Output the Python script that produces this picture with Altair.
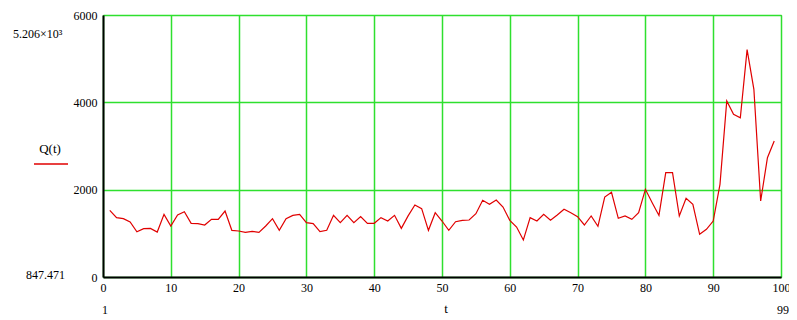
import altair as alt
import pandas as pd

t_vals = list(range(1, 100))
q_vals = [
    1527, 1358, 1335, 1260, 1035, 1107, 1114, 1030, 1435, 1168,
    1420, 1496, 1229, 1221, 1191, 1321, 1321, 1511, 1069, 1053,
    1023, 1046, 1023, 1168, 1335, 1069, 1335, 1412, 1435, 1244,
    1221, 1040, 1069, 1412, 1244, 1412, 1244, 1382, 1229, 1229,
    1359, 1282, 1412, 1114, 1400, 1649, 1565, 1069, 1473, 1282,
    1069, 1267, 1298, 1305, 1450, 1756, 1664, 1763, 1603, 1298,
    1145, 847.471, 1359, 1282, 1435, 1298, 1420, 1550, 1473, 1382,
    1191, 1397, 1160, 1830, 1940, 1344, 1397, 1321, 1473, 2008,
    1702, 1410, 2389, 2389, 1397, 1801, 1664, 977, 1092, 1282,
    2122, 4030, 3725, 3648, 5206, 4298, 1740, 2732, 3114,
]
x_ticks = list(range(0, 101, 10))
y_ticks = [0, 2000, 4000, 6000]

df = pd.DataFrame({"t": t_vals, "Q": q_vals})

W, H = 678, 262
GREEN = "#2ee02e"
FONT = "Liberation Serif"

line = alt.Chart(df).mark_line(color="#e00000", strokeWidth=1.2, clip=True).encode(
    x=alt.X("t:Q", scale=alt.Scale(domain=[0, 100], nice=False),
            axis=alt.Axis(values=x_ticks, format="d", title=None, grid=True, gridColor=GREEN,
                          gridWidth=1.5, gridOpacity=1, ticks=False, domainColor="black",
                          domainWidth=2, labelFont=FONT, labelFontSize=12,
                          labelColor="black", labelPadding=5, labelFlush=False)),
    y=alt.Y("Q:Q", scale=alt.Scale(domain=[0, 6000], nice=False),
            axis=alt.Axis(values=y_ticks, format="d", title=None, grid=True, gridColor=GREEN,
                          gridWidth=1.5, gridOpacity=1, ticks=False, domainColor="black",
                          domainWidth=2, labelFont=FONT, labelFontSize=12,
                          labelColor="black", labelPadding=6, labelFlush=False)),
)

one = pd.DataFrame({"a": [0]})

def label(txt, x, y, align="center", size=12):
    return alt.Chart(one).mark_text(text=txt, align=align, baseline="middle",
                                    font=FONT, fontSize=size, color="black").encode(
        x=alt.value(x), y=alt.value(y))

top_lbl = label("5.206×10³", -90, 19, align="left", size=12)
bot_lbl = label("847.471", -77, 260, align="left", size=12)
q_lbl = label("Q(t)", -53, 134, size=13)
t_lbl = label("t", 343, 294, size=13)
one_lbl = label("1", 2, 295, size=12)
nn_lbl = label("99", 686, 295, align="right", size=12)
legend_line = alt.Chart(one).mark_rule(color="#e00000", strokeWidth=1.5).encode(
    x=alt.value(-69), x2=alt.value(-35), y=alt.value(149))

chart = alt.layer(line, top_lbl, bot_lbl, q_lbl, t_lbl, one_lbl, nn_lbl, legend_line).properties(
    width=W, height=H,
    autosize=alt.AutoSizeParams(type="none"),
    padding={"left": 95, "top": 7, "right": 8, "bottom": 42},
).configure_view(stroke="#555555", strokeWidth=1)

chart.save("out.html", embed_options={"renderer": "svg", "actions": False})
